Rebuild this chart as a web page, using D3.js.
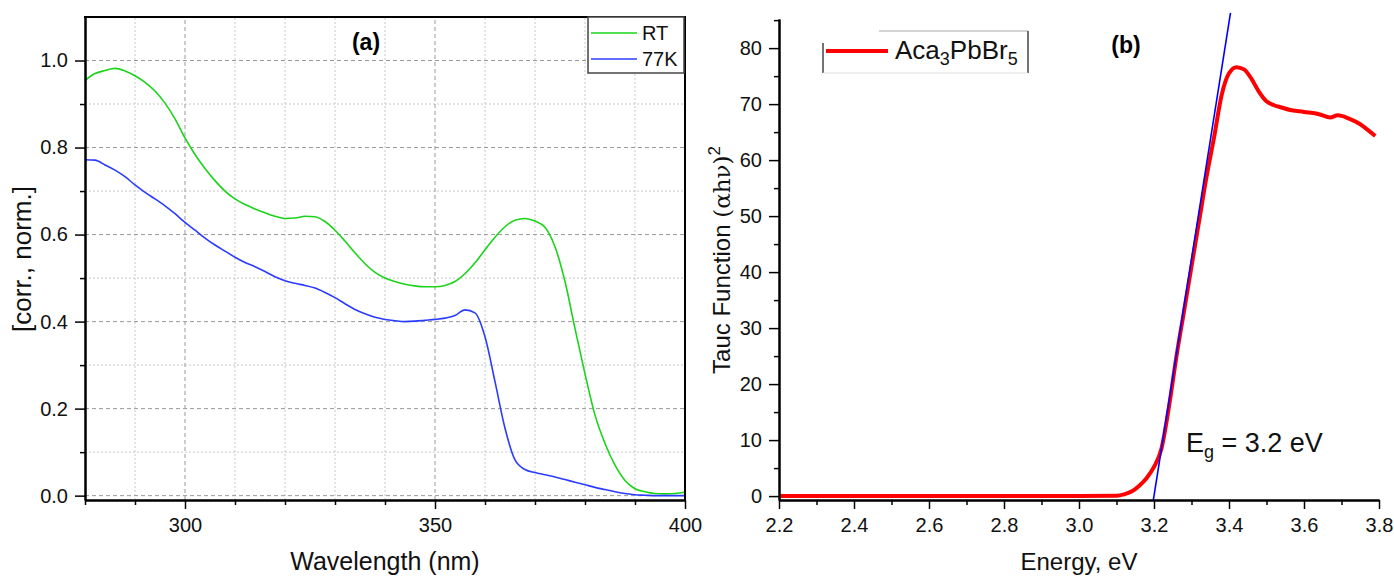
<!DOCTYPE html>
<html><head><meta charset="utf-8">
<script src="https://cdn.jsdelivr.net/npm/d3@7"></script>
<style>
body{margin:0;background:#fff}
svg{display:block;font-family:"Liberation Sans",Arial,sans-serif}
</style>
</head><body>
<svg id="chart" width="1394" height="577"></svg>
<script>
// ---------- Panel (a) data ----------
const wavelength = [280,282,284,286,288,290,292,294,296,298,300,302,304,306,308,310,312,314,316,318,320,322,324,326,328,330,332,334,336,338,340,342,344,346,348,350,352,354,356,358,360,362,364,366,368,370,372,374,376,378,380,382,384,386,388,390,392,394,396,398,400];
const rtValues = [0.954,0.970,0.977,0.982,0.976,0.965,0.950,0.930,0.902,0.866,0.822,0.784,0.752,0.724,0.700,0.682,0.669,0.659,0.650,0.642,0.637,0.638,0.642,0.641,0.630,0.610,0.585,0.558,0.533,0.513,0.500,0.492,0.486,0.482,0.480,0.480,0.483,0.492,0.510,0.535,0.565,0.594,0.618,0.633,0.637,0.631,0.617,0.572,0.492,0.384,0.280,0.185,0.120,0.070,0.035,0.016,0.009,0.005,0.004,0.005,0.008];
const k77Values = [0.772,0.771,0.760,0.748,0.733,0.714,0.697,0.682,0.666,0.648,0.628,0.610,0.592,0.576,0.562,0.548,0.536,0.526,0.515,0.503,0.494,0.488,0.483,0.477,0.467,0.455,0.441,0.428,0.418,0.410,0.405,0.402,0.400,0.401,0.403,0.405,0.408,0.414,0.427,0.420,0.365,0.262,0.155,0.082,0.060,0.053,0.048,0.043,0.037,0.031,0.025,0.019,0.014,0.009,0.005,0.002,0.001,0.000,0.000,0.000,0.000];
const seriesNamesA = ["RT","77K"];
const xTicksA = [300,350,400];
const xMinorA = [280,290,310,320,330,340,360,370,380,390];
const yTicksA = [0,0.2,0.4,0.6,0.8,1.0];
const yMinorA = [0.1,0.3,0.5,0.7,0.9];

// ---------- Panel (b) data ----------
const energy = [2.2,2.5,2.8,3.0,3.1,3.12,3.14,3.16,3.18,3.2,3.22,3.24,3.26,3.28,3.3,3.32,3.34,3.36,3.38,3.4,3.42,3.44,3.46,3.48,3.5,3.52,3.54,3.56,3.6,3.64,3.67,3.69,3.72,3.75,3.77,3.79];
const taucValues = [0,0,0,0,0.05,0.3,0.8,1.8,3.2,5.2,8.5,16,25,33,41,49,57,64,71.5,75.5,76.6,76.2,74.5,72.2,70.5,69.8,69.4,69.0,68.6,68.2,67.6,68.0,67.4,66.4,65.4,64.3];
const fitEnergy = [3.198,3.404];
const fitTauc = [-0.8,86.3];
const seriesNameB = "Aca";
const xTicksB = [2.2,2.4,2.6,2.8,3.0,3.2,3.4,3.6,3.8];
const xMinorB = [2.3,2.5,2.7,2.9,3.1,3.3,3.5,3.7];
const yTicksB = [0,10,20,30,40,50,60,70,80];
const yMinorB = [5,15,25,35,45,55,65,75,85];

const svg = d3.select("#chart");
const green = "#1ad41a", blue77 = "#2b3cff", red = "#ff0000", fitBlue = "#0000ff";

// ---------- Panel (a) ----------
const xA = d3.scaleLinear().domain([280,400]).range([85,685]);
const yA = d3.scaleLinear().domain([-0.01,1.1]).range([500,17]);
const gA = svg.append("g");

// grid
gA.selectAll(".vminor").data(xMinorA.filter(d=>d>280)).join("line")
  .attr("x1",d=>xA(d)).attr("x2",d=>xA(d)).attr("y1",yA.range()[0]).attr("y2",yA.range()[1])
  .attr("stroke","#c8c8c8").attr("stroke-dasharray","2,2").attr("stroke-width",1);
gA.selectAll(".hminor").data(yMinorA).join("line")
  .attr("x1",xA.range()[0]).attr("x2",xA.range()[1]).attr("y1",d=>yA(d)).attr("y2",d=>yA(d))
  .attr("stroke","#c8c8c8").attr("stroke-dasharray","2,2").attr("stroke-width",1);
gA.selectAll(".vmajor").data(xTicksA.filter(d=>d<400)).join("line")
  .attr("x1",d=>xA(d)).attr("x2",d=>xA(d)).attr("y1",yA.range()[0]).attr("y2",yA.range()[1])
  .attr("stroke","#999").attr("stroke-dasharray","4,3").attr("stroke-width",1);
gA.selectAll(".hmajor").data(yTicksA).join("line")
  .attr("x1",xA.range()[0]).attr("x2",xA.range()[1]).attr("y1",d=>yA(d)).attr("y2",d=>yA(d))
  .attr("stroke","#999").attr("stroke-dasharray","4,3").attr("stroke-width",1);

// curves
const lineA = d3.line().x(d=>xA(d[0])).y(d=>yA(d[1])).curve(d3.curveMonotoneX);
gA.append("path").datum(d3.zip(wavelength,rtValues)).attr("d",lineA)
  .attr("fill","none").attr("stroke",green).attr("stroke-width",1.6);
gA.append("path").datum(d3.zip(wavelength,k77Values)).attr("d",lineA)
  .attr("fill","none").attr("stroke",blue77).attr("stroke-width",1.6);

// axes
function styleAxis(g){
  g.select(".domain").attr("stroke","#000").attr("stroke-width",2);
  g.selectAll(".tick line").attr("stroke","#000").attr("stroke-width",1.5);
  g.selectAll(".tick text").attr("fill","#111").style("font-size","20px").style("font-family","'Liberation Sans',Arial,sans-serif");
}
gA.append("g").attr("transform","translate(0,500)")
  .call(d3.axisBottom(xA).tickValues(xMinorA).tickSize(5).tickSizeOuter(0).tickFormat(""))
  .call(styleAxis);
gA.append("g").attr("transform","translate(0,500)")
  .call(d3.axisBottom(xA).tickValues(xTicksA).tickSize(9).tickSizeOuter(0).tickPadding(9).tickFormat(d3.format("d")))
  .call(styleAxis);
gA.append("g").attr("transform","translate(85,0)")
  .call(d3.axisLeft(yA).tickValues(yMinorA).tickSize(5).tickSizeOuter(0).tickFormat(""))
  .call(styleAxis);
gA.append("g").attr("transform","translate(85,0)")
  .call(d3.axisLeft(yA).tickValues(yTicksA).tickSize(10).tickSizeOuter(0).tickPadding(7).tickFormat(d3.format(".1f")))
  .call(styleAxis);
// frame top & right
gA.append("line").attr("x1",84).attr("x2",686).attr("y1",17).attr("y2",17).attr("stroke","#000").attr("stroke-width",2);
gA.append("line").attr("x1",685).attr("x2",685).attr("y1",17).attr("y2",501).attr("stroke","#000").attr("stroke-width",2);

// legend (a)
const legA = gA.append("g");
legA.append("rect").attr("x",588).attr("y",17).attr("width",96).attr("height",56)
  .attr("fill","#fff").attr("stroke","#444").attr("stroke-width",1.5);
[green,blue77].forEach((c,i)=>{
  const yy = 33 + i*26;
  legA.append("line").attr("x1",591).attr("x2",637).attr("y1",yy).attr("y2",yy).attr("stroke",c).attr("stroke-width",1.6);
  legA.append("text").attr("x",642).attr("y",yy+7).style("font-size","20px").attr("fill","#111").text(seriesNamesA[i]);
});
gA.append("text").attr("x",366).attr("y",50).attr("text-anchor","middle")
  .style("font-size","23px").style("font-weight","bold").text("(a)");
gA.append("text").attr("x",385).attr("y",570).attr("text-anchor","middle")
  .style("font-size","25px").attr("fill","#111").text("Wavelength (nm)");
gA.append("text").attr("transform","translate(31,259) rotate(-90)").attr("text-anchor","middle")
  .style("font-size","26px").attr("fill","#111").text("[corr., norm.]");

// ---------- Panel (b) ----------
const xB = d3.scaleLinear().domain([2.2,3.8]).range([779,1379]);
const yB = d3.scaleLinear().domain([-0.7,85.2]).range([500,19]);
const gB = svg.append("g");

const lineB = d3.line().x(d=>xB(d[0])).y(d=>yB(d[1])).curve(d3.curveMonotoneX);
gB.append("path").datum(d3.zip(energy,taucValues)).attr("d",lineB)
  .attr("fill","none").attr("stroke",red).attr("stroke-width",4).attr("stroke-linejoin","round");
gB.append("path").datum(d3.zip(fitEnergy,fitTauc)).attr("d",d3.line().x(d=>xB(d[0])).y(d=>yB(d[1])))
  .attr("fill","none").attr("stroke",fitBlue).attr("stroke-width",1.6);

gB.append("g").attr("transform","translate(0,500)")
  .call(d3.axisBottom(xB).tickValues(xMinorB).tickSize(5).tickSizeOuter(0).tickFormat(""))
  .call(styleAxis);
gB.append("g").attr("transform","translate(0,500)")
  .call(d3.axisBottom(xB).tickValues(xTicksB).tickSize(9).tickSizeOuter(0).tickPadding(9).tickFormat(d3.format(".1f")))
  .call(styleAxis);
gB.append("g").attr("transform","translate(779,0)")
  .call(d3.axisLeft(yB).tickValues(yMinorB).tickSize(5).tickSizeOuter(0).tickFormat(""))
  .call(styleAxis);
gB.append("g").attr("transform","translate(779,0)")
  .call(d3.axisLeft(yB).tickValues(yTicksB).tickSize(10).tickSizeOuter(0).tickPadding(7).tickFormat(d3.format("d")))
  .call(styleAxis);

// legend (b)
const legB = gB.append("g");
legB.append("line").attr("x1",823).attr("x2",823).attr("y1",43).attr("y2",73).attr("stroke","#444").attr("stroke-width",1.5);
legB.append("line").attr("x1",879).attr("x2",1028).attr("y1",31).attr("y2",31).attr("stroke","#aaa").attr("stroke-width",1);
legB.append("line").attr("x1",1028).attr("x2",1028).attr("y1",31).attr("y2",73).attr("stroke","#444").attr("stroke-width",1.5);
legB.append("line").attr("x1",823).attr("x2",1028).attr("y1",73).attr("y2",73).attr("stroke","#ddd").attr("stroke-width",1);
legB.append("line").attr("x1",826).attr("x2",888).attr("y1",51).attr("y2",51).attr("stroke",red).attr("stroke-width",4);
const lt = legB.append("text").attr("x",895).attr("y",59).style("font-size","26px").attr("fill","#111");
lt.append("tspan").text(seriesNameB);
lt.append("tspan").attr("dy",6).style("font-size","18px").text("3");
lt.append("tspan").attr("dy",-6).text("PbBr");
lt.append("tspan").attr("dy",6).style("font-size","18px").text("5");

gB.append("text").attr("x",1126).attr("y",53).attr("text-anchor","middle")
  .style("font-size","23px").style("font-weight","bold").text("(b)");

const eg = gB.append("text").attr("x",1186).attr("y",452).style("font-size","27px").attr("fill","#111");
eg.append("tspan").text("E");
eg.append("tspan").attr("dy",6).style("font-size","18px").text("g");
eg.append("tspan").attr("dy",-6).text(" = 3.2 eV");

gB.append("text").attr("x",1079).attr("y",570).attr("text-anchor","middle")
  .style("font-size","24px").attr("fill","#111").text("Energy, eV");
const yl = gB.append("text").attr("transform","translate(730,260) rotate(-90)").attr("text-anchor","middle")
  .style("font-size","24px").attr("fill","#111");
yl.append("tspan").text("Tauc Function ");
yl.append("tspan").style("font-family","'DejaVu Serif','Liberation Serif',serif").style("font-size","23px").text("(\u03b1h\u03bd)");
yl.append("tspan").attr("dy",-10).style("font-size","17px").text("2");
</script>
</body></html>
